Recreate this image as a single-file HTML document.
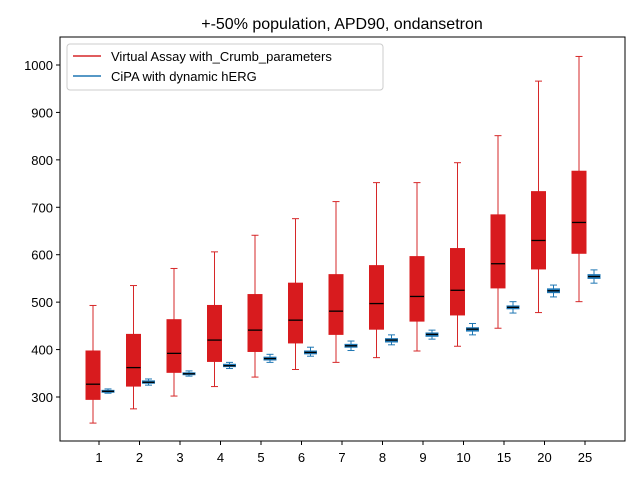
<!DOCTYPE html>
<html><head><meta charset="utf-8"><style>
body{margin:0;background:#fff}
svg text{font-family:"Liberation Sans","DejaVu Sans",sans-serif;fill:#000}
</style></head><body>
<svg id="chart" width="640" height="480" xmlns="http://www.w3.org/2000/svg">
<rect width="640" height="480" fill="#fff"/>
<text x="342" y="29" font-size="16" text-anchor="middle">+-50% population, APD90, ondansetron</text>
<g id="marks"></g>
<rect x="60" y="37" width="565" height="404" fill="none" stroke="#000" stroke-width="1"/>
<g id="axes"></g>
<g>
<rect x="67" y="44" width="316" height="46" rx="3" fill="#fff" fill-opacity="0.8" stroke="#ccc"/>
<line x1="73" y1="56" x2="101" y2="56" stroke="#d62728" stroke-width="1.5"/>
<text x="111" y="61" font-size="13">Virtual Assay with_Crumb_parameters</text>
<line x1="73" y1="76" x2="101" y2="76" stroke="#1f77b4" stroke-width="1.5"/>
<text x="111" y="81" font-size="13">CiPA with dynamic hERG</text>
</g>
</svg>
<script>
const categories=["1","2","3","4","5","6","7","8","9","10","15","20","25"];
const redLow=[245,275,302,322,342,358,373,383,397,407,445,478,501];
const redQ1=[295,323,352,375,396,414,432,443,460,473,530,570,603];
const redMed=[327,362,392,420,441,462,481,497,512,525,581,630,668];
const redQ3=[397,432,463,493,516,540,558,577,596,613,684,733,776];
const redHigh=[493,535,571,606,641,676,712,752,752,794,851,966,1018];
const blueLow=[308,325,344,360,373,386,398,410,422,431,477,511,540];
const blueQ1=[310,329,347,364,378,391,405,416,428,439,486,520,550];
const blueMed=[312,331,349,366,381,394,408,420,432,443,489,524,554];
const blueQ3=[314,334,351,369,384,397,411,423,435,446,492,528,558];
const blueHigh=[317,338,355,373,390,405,418,431,441,455,501,536,568];
const yTicks=[300,400,500,600,700,800,900,1000];
const NS="http://www.w3.org/2000/svg";
const y=v=>397-(v-300)*0.4743;
const x=i=>99+i*40.5;
const marks=document.getElementById('marks'),axes=document.getElementById('axes');
function mk(tag,at,parent){const e=document.createElementNS(NS,tag);for(const k in at)e.setAttribute(k,at[k]);parent.appendChild(e);return e;}
function box(i,cx,w,lo,q1,md,q3,hi,color,fill,name){
  const g=mk('g',{},marks);
  
  
  mk('line',{x1:cx,x2:cx,y1:y(hi),y2:y(q3),stroke:color,'stroke-width':1},g);
  mk('line',{x1:cx,x2:cx,y1:y(q1),y2:y(lo),stroke:color,'stroke-width':1},g);
  mk('line',{x1:cx-3.5,x2:cx+3.5,y1:y(hi),y2:y(hi),stroke:color,'stroke-width':1},g);
  mk('line',{x1:cx-3.5,x2:cx+3.5,y1:y(lo),y2:y(lo),stroke:color,'stroke-width':1},g);
  mk('rect',{x:cx-w/2,y:y(q3),width:w,height:Math.max(1,y(q1)-y(q3)),fill:fill,stroke:fill},g);
  mk('line',{x1:cx-w/2,x2:cx+w/2,y1:y(md),y2:y(md),stroke:'#000','stroke-width':1.3},g);
}
categories.forEach((c,i)=>{
  box(i,x(i)-6,14,redLow[i],redQ1[i],redMed[i],redQ3[i],redHigh[i],'#d62728','#d81b1e','virtual-assay');
  box(i,x(i)+9,12,blueLow[i],blueQ1[i],blueMed[i],blueQ3[i],blueHigh[i],'#1f77b4','#1f77b4','cipa');
  mk('line',{x1:x(i),x2:x(i),y1:441,y2:445,stroke:'#000'},axes);
  const t=mk('text',{x:x(i),y:462,'font-size':13,'text-anchor':'middle'},axes);
  t.textContent=c;
  
  
});
yTicks.forEach(v=>{
  mk('line',{x1:56,x2:60,y1:y(v),y2:y(v),stroke:'#000'},axes);
  const t=mk('text',{x:53,y:y(v)+5,'font-size':13,'text-anchor':'end'},axes);
  t.textContent=v;
  
  
});
</script>
</body></html>
